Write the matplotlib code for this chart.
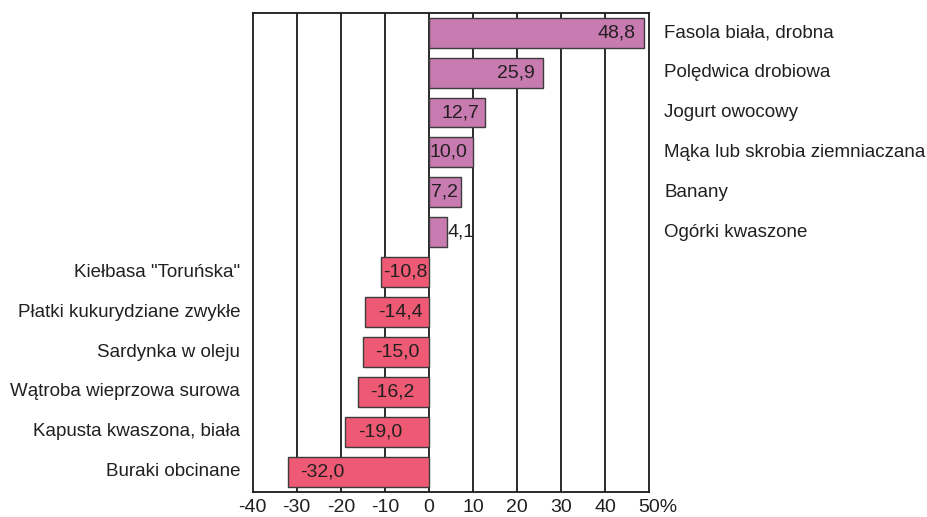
import matplotlib
matplotlib.use("Agg")
import matplotlib.pyplot as plt
import matplotlib.transforms as mtransforms

# dane z wykresu (od góry do dołu)
categories = [
    "Fasola biała, drobna",
    "Polędwica drobiowa",
    "Jogurt owocowy",
    "Mąka lub skrobia ziemniaczana",
    "Banany",
    "Ogórki kwaszone",
    "Kiełbasa \"Toruńska\"",
    "Płatki kukurydziane zwykłe",
    "Sardynka w oleju",
    "Wątroba wieprzowa surowa",
    "Kapusta kwaszona, biała",
    "Buraki obcinane",
]
values = [48.8, 25.9, 12.7, 10.0, 7.2, 4.1, -10.8, -14.4, -15.0, -16.2, -19.0, -32.0]
xticks = [-40, -30, -20, -10, 0, 10, 20, 30, 40, 50]
xtick_labels = ["-40", "-30", "-20", "-10", "0", "10", "20", "30", "40", "50%"]

POS_COLOR = "#c77bb1"
NEG_COLOR = "#ee5a73"
EDGE = "#3c3c3c"
TEXT = "#231f20"
FS_CAT = 13.5
FS_VAL = 14

plt.rcParams["font.family"] = ["Liberation Sans", "DejaVu Sans"]

fig = plt.figure(figsize=(9.28, 5.17), dpi=100)
ax = fig.add_axes([0.2723, 0.0489, 0.4271, 0.9265])

ypos = list(range(len(values)))
colors = [POS_COLOR if v > 0 else NEG_COLOR for v in values]
ax.barh(ypos, values, height=0.75, color=colors, edgecolor=EDGE, linewidth=1.0, zorder=3)

for x in xticks[1:-1]:
    ax.axvline(x, color="#1a1a1a", linewidth=1.3, zorder=1)

ax.set_xlim(-40, 50)
ax.set_ylim(len(values) - 0.5, -0.5)
ax.set_yticks([])
ax.set_xticks(xticks)
ax.set_xticklabels(xtick_labels, fontsize=FS_VAL, color=TEXT)
ax.tick_params(axis="x", length=0, pad=5)
lbl = ax.get_xticklabels()[-1]
lbl.set_horizontalalignment("left")
lbl.set_transform(lbl.get_transform() + mtransforms.ScaledTranslation(-11 / 100, 0, fig.dpi_scale_trans))

for s in ax.spines.values():
    s.set_color("#1a1a1a")
    s.set_linewidth(1.3)

for y, (cat, v) in enumerate(zip(categories, values)):
    txt = f"{v:.1f}".replace(".", ",")
    if v > 0:
        ax.annotate(cat, xy=(1, y), xycoords=("axes fraction", "data"),
                    xytext=(11, 0), textcoords="offset points",
                    ha="left", va="center", fontsize=FS_CAT, color=TEXT)
        if v >= 20:
            ax.annotate(txt, xy=(v, y), xytext=(-6, 0), textcoords="offset points",
                        ha="right", va="center", fontsize=FS_VAL, color=TEXT, zorder=4)
        elif v >= 9:
            ax.annotate(txt, xy=(v, y), xytext=(-4, 0), textcoords="offset points",
                        ha="right", va="center", fontsize=FS_VAL, color=TEXT, zorder=4)
        elif v >= 6:
            ax.annotate(txt, xy=(v / 2, y), ha="center", va="center",
                        fontsize=FS_VAL, color=TEXT, zorder=4)
        else:
            ax.annotate(txt, xy=(v, y), xytext=(0.5, 0), textcoords="offset points",
                        ha="left", va="center", fontsize=FS_VAL, color=TEXT, zorder=4)
    else:
        ax.annotate(cat, xy=(0, y), xycoords=("axes fraction", "data"),
                    xytext=(-9, 0), textcoords="offset points",
                    ha="right", va="center", fontsize=FS_CAT, color=TEXT)
        if v > -12:
            ax.annotate(txt, xy=(v, y), xytext=(1, 0), textcoords="offset points",
                        ha="left", va="center", fontsize=FS_VAL, color=TEXT, zorder=4)
        else:
            ax.annotate(txt, xy=(v, y), xytext=(9, 0), textcoords="offset points",
                        ha="left", va="center", fontsize=FS_VAL, color=TEXT, zorder=4)

fig.savefig("out.png", dpi=100)
